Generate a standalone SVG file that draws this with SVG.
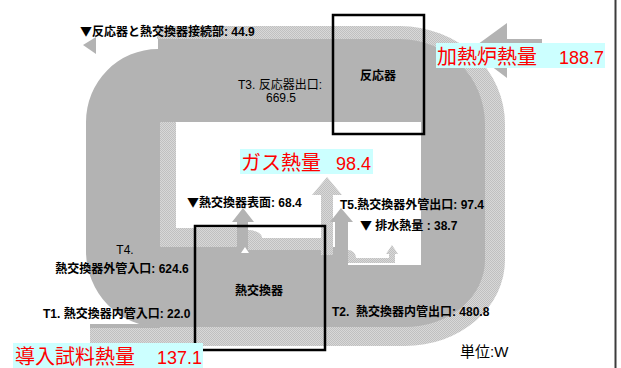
<svg xmlns="http://www.w3.org/2000/svg" width="621" height="368" viewBox="0 0 621 368">
<defs>
<pattern id="dots" width="2" height="2" patternUnits="userSpaceOnUse">
<rect width="2" height="2" fill="#d8d8d8"/>
<rect width="1" height="1" fill="#c0c0c0"/>
<rect x="1" y="1" width="1" height="1" fill="#c0c0c0"/>
</pattern>
<style>
.dk{fill:#b3b3b3}
.lt{fill:url(#dots)}
.wh{fill:#ffffff}
.box{fill:none;stroke:#000;stroke-width:2.5}
.lbl{font-family:"Liberation Sans","Noto Sans CJK JP",sans-serif;font-size:12px;fill:#000;white-space:pre}
.b{font-weight:bold}
.tri{font-family:"Noto Sans CJK JP",sans-serif}
.big{font-family:"Liberation Sans","Noto Sans CJK JP",sans-serif;font-size:20px;fill:#ff0000;white-space:pre}
.num{font-size:18px}
.hl{fill:#ccffff}
</style>
</defs>
<rect width="621" height="368" fill="#fff"/>
<g id="connectors">
<path class="lt" d="M157,26 L400,26 A105,98 0 0 1 505,124 L505,260 A100,86 0 0 1 405,346 L90,346 L90,324 L160,324 L160,39 L157,39 Z"/>
<path class="dk" d="M86,122 A72,73 0 0 1 158,49 L158,39 L400,39 A85,85 0 0 1 485,124 L485,260 A80,67 0 0 1 405,327 L160,327 A74,76 0 0 1 86,251 Z"/>
<rect class="dk" x="90" y="324" width="70" height="4"/>
<polygon class="wh" points="160,122 421,122 421,265 348,265 348,247 160,247"/>
<rect class="lt" x="160" y="122" width="16" height="125"/>
<rect class="lt" x="160" y="228" width="77" height="19"/>
<path class="lt" d="M248,250 L248,230 A14,8 0 0 1 262,238 L333,238 L333,250 Z"/>
<path class="dk" d="M237,247 L237,222 L232,222 L243,208 L254,222 L248,222 L248,247 Z"/>
<polygon class="wh" points="241,253 245,247 249,253"/>
<path class="lt" d="M321,255 L321,195 L312,195 L327,177 L342,195 L333,195 L333,255 Z"/>
<path class="dk" d="M335,265 L335,222 L330,222 L341,208 L353,222 L348,222 L348,265 Z"/>
<path class="lt" d="M348,250 A8,8 0 0 1 356,258 L389,258 L389,254 L386,254 L392,245 L398,254 L395,254 L395,263 L348,263 Z"/>
<polygon class="dk" points="83,45 96,37 96,54"/>
<polygon class="dk" points="542,39 542,62 507,62 507,78 470,50 507,23 507,39"/>
</g>
<g id="reactor">
<rect class="box" x="333" y="15" width="91" height="119"/>
<text class="lbl b" x="378" y="80" text-anchor="middle">反応器</text>
</g>
<g id="heat-exchanger">
<rect class="box" x="195" y="226" width="130" height="124"/>
<text class="lbl b" x="259" y="295" text-anchor="middle">熱交換器</text>
</g>
<g id="labels">
<text class="lbl b" x="80" y="36"><tspan class="tri">▼</tspan>反応器と熱交換器接続部: 44.9</text>
<text class="lbl" x="280" y="89" text-anchor="middle">T3. 反応器出口:</text>
<text class="lbl" x="281" y="102" text-anchor="middle">669.5</text>
<text class="lbl" x="125" y="254" text-anchor="middle">T4.</text>
<text class="lbl b" x="122" y="273" text-anchor="middle">熱交換器外管入口: 624.6</text>
<text class="lbl b" x="43" y="318">T1. 熱交換器内管入口: 22.0</text>
<text class="lbl b" x="332" y="316">T2.  熱交換器内管出口: 480.8</text>
<text class="lbl b" x="187" y="207"><tspan class="tri">▼</tspan>熱交換器表面: 68.4</text>
<text class="lbl b" x="340" y="209">T5.熱交換器外管出口: 97.4</text>
<text class="lbl b" x="360" y="230"><tspan class="tri">▼</tspan> 排水熱量 : 38.7</text>
<text class="lbl" x="460" y="357" style="font-size:15px">単位:W</text>
</g>
<g id="heat-furnace">
<rect class="hl" x="436" y="43" width="169" height="25"/>
<text class="big" x="437" y="64">加熱炉熱量  <tspan class="num" x="559">188.7</tspan></text>
</g>
<g id="gas-heat">
<rect class="hl" x="240" y="149" width="133" height="25"/>
<text class="big" x="241" y="170">ガス熱量  <tspan class="num" x="336">98.4</tspan></text>
</g>
<g id="sample-heat">
<rect class="hl" x="13" y="343" width="190" height="25"/>
<text class="big" x="15" y="364">導入試料熱量  <tspan class="num" x="157">137.1</tspan></text>
</g>
<line x1="615.5" y1="0" x2="615.5" y2="368" stroke="#3c3c3c" stroke-width="2"/>
</svg>
